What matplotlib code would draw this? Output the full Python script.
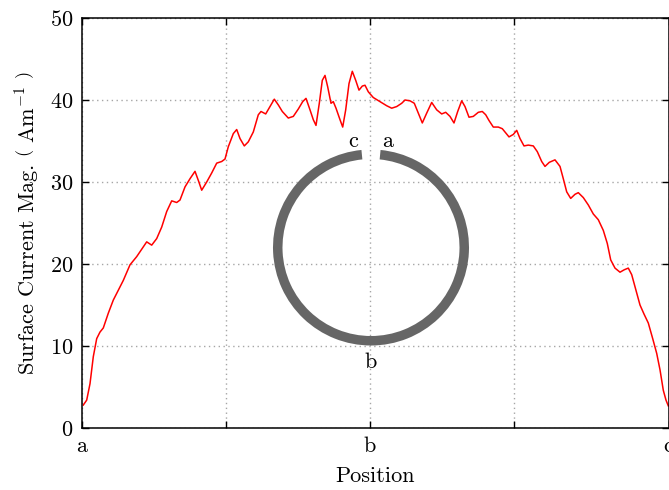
import matplotlib
matplotlib.use('Agg')
import matplotlib.pyplot as plt
from matplotlib.patches import Wedge

plt.rcParams['font.family'] = 'serif'
plt.rcParams['font.serif'] = ['cmr10']
plt.rcParams['mathtext.fontset'] = 'cm'
plt.rcParams['axes.formatter.use_mathtext'] = True

# position along the loop (a -> b -> c), arbitrary units
pos = [1.3, 4.7, 8, 11.3, 14.7, 18, 21.3, 26.3, 31.3, 36.3, 41.3, 48, 54.7, 59.7,
       64.7, 69.7, 74.7, 79.7, 84.7, 89.7, 94.7, 98, 103, 108, 113, 116.3, 119.7,
       124.7, 129.7, 134.7, 139.7, 143, 146.3, 151.3, 154.7, 158, 162.3, 166.3,
       171.3, 176.3, 179, 183.7, 188, 192.3, 196.3, 200.3, 206.3, 211.3, 216.3,
       220.7, 224, 228, 231.3, 234, 237.3, 240.3, 243, 245.7, 249, 251.3, 254,
       258, 260.7, 263.7, 267, 270.3, 273.7, 277, 280.3, 283, 286.3, 291.3, 298,
       304.7, 309.7, 314.7, 319.7, 323, 328, 332.3, 336.3, 340.3, 344.7, 349.7,
       354.7, 359.7, 363.7, 368, 372, 375.7, 379.7, 383, 387, 391.3, 396.3, 400.3,
       403.7, 407, 411.3, 416.3, 420.3, 423.7, 427, 431.3, 434.7, 438, 442, 446.3,
       451.3, 455.3, 459.7, 463, 467.3, 473, 478, 481.3, 484.7, 488.7, 493, 496.3,
       501.3, 506.3, 511.3, 516.3, 521.3, 525.3, 528.7, 533, 538, 542.3, 546.3,
       549.7, 554, 558, 562, 566.3, 570.7, 574.7, 578, 581.3, 584, 586.3]
current = [2.8, 3.4, 5.4, 8.7, 10.9, 11.7, 12.2, 14.0, 15.6, 16.8, 18.0, 19.9, 20.9,
           21.8, 22.7, 22.3, 23.1, 24.5, 26.4, 27.7, 27.5, 27.8, 29.4, 30.4, 31.3,
           30.2, 29.0, 30.0, 31.1, 32.3, 32.5, 32.8, 34.3, 35.9, 36.4, 35.3, 34.4,
           34.9, 36.1, 38.2, 38.6, 38.3, 39.2, 40.1, 39.4, 38.6, 37.8, 38.0, 38.9,
           39.8, 40.2, 38.8, 37.6, 36.9, 39.6, 42.4, 43.0, 41.6, 39.6, 39.8, 39.0,
           37.6, 36.7, 38.8, 42.0, 43.5, 42.4, 41.2, 41.7, 41.8, 41.0, 40.3, 39.8,
           39.3, 39.0, 39.2, 39.6, 40.0, 39.9, 39.6, 38.4, 37.2, 38.4, 39.7, 38.8,
           38.3, 38.5, 38.0, 37.2, 38.6, 39.9, 39.2, 37.9, 38.0, 38.5, 38.6, 38.2,
           37.5, 36.7, 36.7, 36.5, 36.0, 35.5, 35.8, 36.3, 35.3, 34.4, 34.5, 34.4,
           33.7, 32.5, 31.9, 32.4, 32.7, 31.9, 30.4, 28.8, 28.0, 28.5, 28.7, 28.1,
           27.2, 26.1, 25.4, 24.1, 22.5, 20.5, 19.5, 19.0, 19.3, 19.5, 18.7, 16.8,
           15.0, 13.9, 12.8, 10.9, 9.1, 7.1, 4.6, 3.4, 2.7]

tick_pos = [0, 144, 288, 432, 586.5]
tick_lab = ['a', '', 'b', '', 'c']

fig = plt.figure(figsize=(6.69, 4.9), dpi=100)
ax = fig.add_axes([82 / 669, 62 / 490, 586.5 / 669, 410 / 490])

ax.plot(pos, current, color='red', lw=1.1)
ax.set_xlim(0, 586.5)
ax.set_ylim(0, 50)
ax.set_xticks(tick_pos)
ax.set_xticklabels(tick_lab)
ax.set_yticks([0, 10, 20, 30, 40, 50])
ax.grid(True, color='0.65', linestyle=(0, (1, 2.5)), lw=1.0)
ax.tick_params(direction='in', length=5, width=1, top=True, right=True,
               labelsize=16, pad=6)
for s in ax.spines.values():
    s.set_linewidth(1.1)
ax.set_xlabel('Position', fontsize=16, labelpad=8)
ax.set_ylabel(r'Surface Current Mag. $\left(\ \mathrm{Am}^{-1}\ \right)$', fontsize=16,
              labelpad=6)

# loop sketch, drawn in pixel units
ins = fig.add_axes([(371 - 140) / 669, (242.5 - 140) / 490, 280 / 669, 280 / 490])
ins.set_xlim(-140, 140)
ins.set_ylim(-140, 140)
ins.axis('off')
ins.add_patch(Wedge((0, 0), 98, 95.6, 84.4, width=9.5, color='0.4', lw=0))
ins.text(-18, 100.5, 'c', fontsize=16, ha='center', va='baseline')
ins.text(17, 100.5, 'a', fontsize=16, ha='center', va='baseline')
ins.text(0, -120.5, 'b', fontsize=16, ha='center', va='baseline')

fig.savefig('out.png', dpi=100)
